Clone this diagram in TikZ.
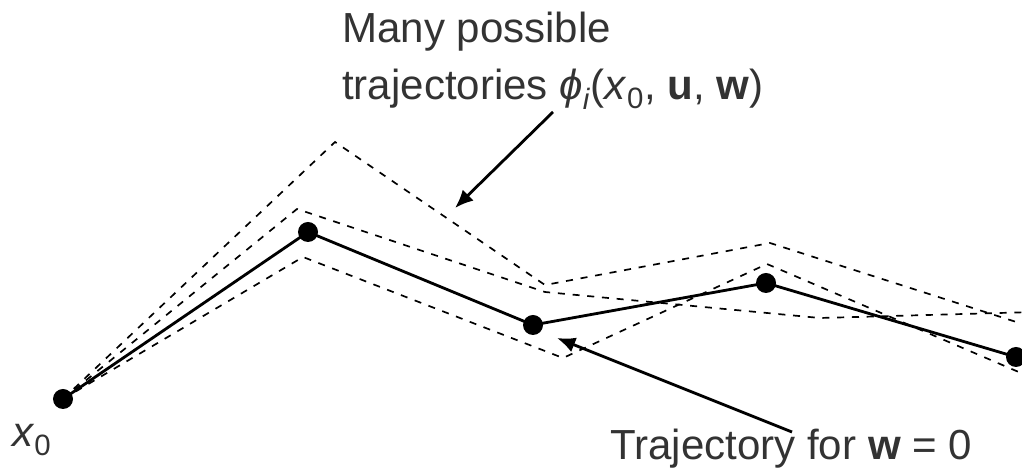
\documentclass[tikz,border=0pt]{standalone}
\usepackage{fontspec}
\setmainfont{Liberation Sans}
\usetikzlibrary{arrows.meta, positioning}

\begin{document}
\begin{tikzpicture}[
    x=0.025cm,
    y=-0.025cm,
    dot/.style={
        circle,
        fill=black,
        inner sep=0pt,
        minimum size=5mm
    },
    nominal/.style={
        line width=2pt
    },
    possible/.style={
        line width=1.2pt,
        dash pattern=on 5pt off 5.5pt
    },
    arrow/.style={
        -{Latex[length=13pt, width=11pt]},
        line width=2pt
    },
    lbl/.style={
        inner sep=0pt,
        text=black!80,
        font=\fontsize{29.9}{36}\selectfont
    }
]

\path[use as bounding box, clip] (0,0) rectangle (1022,471);

\node[dot] (x0) at (63,399) {};
\node[dot] (p1) at (308,232) {};
\node[dot] (p2) at (533,325) {};
\node[dot] (p3) at (766,283) {};
\node[dot] (p4) at (1016,357) {};

\node[lbl, below left=4.5mm and 1mm of x0] (start)
{\textit{x}\textsubscript{0}};

% perturbed runs
\coordinate (hi1) at (335,142);
\coordinate (hi2) at (545,285);
\coordinate (hi3) at (770,243);
\coordinate (hi4) at (1035,328);

\coordinate (mid1) at (297,209);
\coordinate (mid2) at (545,292);
\coordinate (mid3) at (820,318);
\coordinate (mid4) at (1035,312);

\coordinate (lo1) at (303,257);
\coordinate (lo2) at (563,358);
\coordinate (lo3) at (767,264);
\coordinate (lo4) at (1035,379);

\draw[possible] (x0.center) -- (hi1) -- (hi2) -- (hi3) -- (hi4);
\draw[possible] (x0.center) -- (mid1) -- (mid2) -- (mid3) -- (mid4);
\draw[possible] (x0.center) -- (lo1) -- (lo2) -- (lo3) -- (lo4);

% nominal run
\draw[nominal] (x0.center) -- (p1.center) -- (p2.center)
    -- (p3.center) -- (p4.center);

% labels
\node[lbl, anchor=base west] (many) at (342,43) {Many possible};
\node[lbl, anchor=base west] (traj) at (342,100)
{trajectories \textit{ϕ}\textsubscript{\textit{i}}(\textit{x}\textsubscript{0}, \textbf{u}, \textbf{w})};

\node[lbl, anchor=base west] (zero) at (610,460)
{Trajectory for \textbf{w} = 0};

\coordinate (manytail) at (553,112);
\coordinate (manytip) at (455,208);
\coordinate (zerotail) at (792,432);
\coordinate (zerotip) at (557,338);

\draw[arrow] (manytail) -- (manytip);
\draw[arrow] (zerotail) -- (zerotip);

\end{tikzpicture}
\end{document}
